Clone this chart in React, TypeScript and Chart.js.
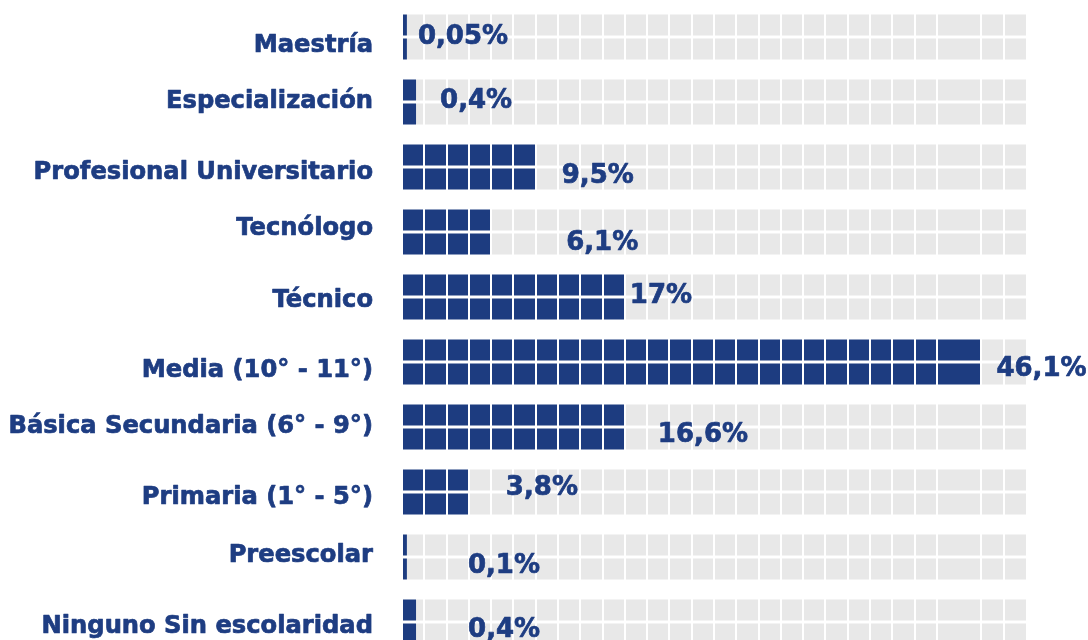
import React, { useEffect, useRef } from "react";
import { Chart, registerables } from "chart.js";

Chart.register(...registerables);

// ---- data ----
const categories = [
  "Maestría",
  "Especialización",
  "Profesional Universitario",
  "Tecnólogo",
  "Técnico",
  "Media (10° - 11°)",
  "Básica Secundaria (6° - 9°)",
  "Primaria (1° - 5°)",
  "Preescolar",
  "Ninguno Sin escolaridad",
];
const percentages = [0.05, 0.4, 9.5, 6.1, 17, 46.1, 16.6, 3.8, 0.1, 0.4];
// number of waffle cells filled in each row, as drawn in the picture
const filledCells = [0.22, 0.63, 6, 4, 10, 26, 10, 3, 0.22, 0.63];
const totalCells = 28;
// one cell boundary is not drawn in the reference (merged cell)
const mergedBoundaries = [25];

// ---- label layout nudges (pixels) ----
const categoryLabelDy = [15, 6, 12, 3, 10, 15, 6, 12, 5, 11];
const valueLabelDx = [11, 24, 26, 75, 5, 15, 33, 37, 61, 52];
const valueLabelDy = [7, 6, 16, 18, 6, 14, 15, 3, 16, 15];

const BLUE = "#1d3c80";
const TEXT = "#1e3d82";
const GREY = "#e8e8e8";

const formatPct = (v: number) => String(v).replace(".", ",") + "%";

export default function App() {
  const ref = useRef<HTMLCanvasElement | null>(null);

  useEffect(() => {
    if (!ref.current) return;
    const empty = filledCells.map((c) => totalCells - c);

    const labelPlugin = {
      id: "waffleLabels",
      afterDraw(chart: any) {
        const { ctx, chartArea, scales } = chart;
        ctx.save();
        ctx.fillStyle = TEXT;
        ctx.strokeStyle = TEXT;
        ctx.lineWidth = 0.7;
        ctx.lineJoin = "round";
        ctx.textBaseline = "alphabetic";
        categories.forEach((cat, i) => {
          const yc = scales.y.getPixelForValue(i);
          ctx.font = 'bold 24.2px "DejaVu Sans"';
          ctx.textAlign = "right";
          const cx = chartArea.left - 29;
          const cy = yc + categoryLabelDy[i];
          ctx.fillText(cat, cx, cy);
          ctx.strokeText(cat, cx, cy);
          const xEnd = scales.x.getPixelForValue(filledCells[i]);
          ctx.font = 'bold 26px "DejaVu Sans"';
          ctx.textAlign = "left";
          const t = formatPct(percentages[i]);
          const vx = xEnd + valueLabelDx[i];
          const vy = yc + valueLabelDy[i];
          ctx.fillText(t, vx, vy);
          ctx.strokeText(t, vx, vy);
        });
        ctx.restore();
      },
    };

    const common = {
      borderWidth: 0,
      borderSkipped: false,
      categoryPercentage: 48 / 65,
      barPercentage: 0.875,
    };

    const chart = new Chart(ref.current, {
      type: "bar",
      data: {
        labels: categories,
        datasets: [
          { label: "r1-fill", data: filledCells, backgroundColor: BLUE, stack: "r1", ...common },
          { label: "r1-empty", data: empty, backgroundColor: GREY, stack: "r1", ...common },
          { label: "r2-fill", data: filledCells, backgroundColor: BLUE, stack: "r2", ...common },
          { label: "r2-empty", data: empty, backgroundColor: GREY, stack: "r2", ...common },
        ],
      },
      options: {
        indexAxis: "y",
        animation: false,
        responsive: false,
        devicePixelRatio: 1,
        layout: { padding: { left: 402, right: 62, top: 4.5, bottom: 5.5 } },
        plugins: {
          legend: { display: false },
          tooltip: { enabled: false },
          title: { display: false },
        },
        scales: {
          x: {
            type: "linear",
            min: 0,
            max: totalCells,
            stacked: true,
            display: true,
            border: { display: false },
            ticks: { display: false, stepSize: 1, maxTicksLimit: 100, autoSkip: false },
            grid: {
              drawTicks: false,
              z: 1,
              lineWidth: 2,
              color: (c: any) => {
                const v = c.tick ? c.tick.value : -1;
                if (v <= 0 || v >= totalCells || mergedBoundaries.includes(v)) return "rgba(255,255,255,0)";
                return "#ffffff";
              },
            },
          },
          y: {
            type: "category",
            stacked: true,
            display: false,
          },
        },
      },
      plugins: [labelPlugin],
    } as any);

    return () => chart.destroy();
  }, []);

  return (
    <div style={{ position: "fixed", left: 0, top: 0, width: 1088, height: 660, background: "#fff" }}>
      <canvas ref={ref} width={1088} height={660} style={{ display: "block" }} />
    </div>
  );
}
